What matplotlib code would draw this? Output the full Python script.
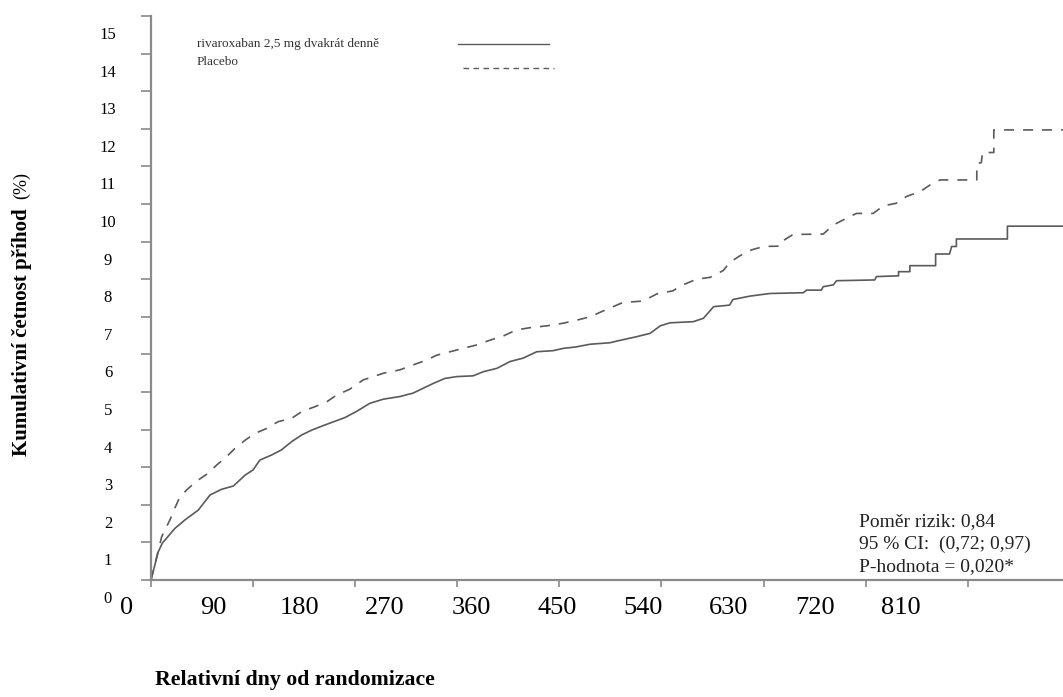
import matplotlib
matplotlib.use("Agg")
import matplotlib.pyplot as plt
from matplotlib.lines import Line2D

# ---------------- data (vertices of the cumulative-incidence curves) ----------------
riva_days = [0, 6.4, 10, 21, 30, 41.7, 52, 62, 72.6, 83, 90, 96, 106, 115, 124, 133, 142,
             153, 162, 171, 181, 193, 205, 219.5, 231, 240, 249, 259, 269.5, 284, 293,
             305, 316.5, 328, 340, 354.6, 363.5, 375, 387, 404.6, 413, 428, 440, 449,
             457.5, 478, 487, 496, 510, 513, 528, 545.6, 575, 578, 591, 592.6, 601.5,
             604.4, 638, 639.6, 659, 659, 669, 669, 691.7, 691.7, 704, 705.8, 710, 710,
             755, 755, 804]
riva_vals = [0, 0.75, 0.98, 1.37, 1.6, 1.86, 2.26, 2.41, 2.5, 2.79, 2.93, 3.19, 3.32, 3.46,
             3.68, 3.86, 3.99, 4.12, 4.22, 4.32, 4.48, 4.70, 4.81, 4.88, 4.97, 5.10, 5.23,
             5.36, 5.41, 5.43, 5.54, 5.63, 5.81, 5.90, 6.07, 6.10, 6.16, 6.20, 6.27, 6.31,
             6.37, 6.47, 6.56, 6.76, 6.84, 6.87, 6.96, 7.27, 7.31, 7.46, 7.55, 7.62, 7.64,
             7.71, 7.71, 7.80, 7.85, 7.96, 7.98, 8.07, 8.09, 8.20, 8.20, 8.36, 8.36, 8.67,
             8.67, 8.87, 8.87, 9.07, 9.07, 9.41, 9.41]

plac_days = [0, 9.4, 12.3, 16.7, 21, 25.6, 33, 41.7, 50.5, 58, 66.7, 74, 83, 91.7, 102,
             112, 124, 133, 144.6, 155, 163.7, 175, 187, 205, 219.5, 231, 243, 252, 263.6,
             275, 287, 299, 310.6, 322, 334, 349, 363.5, 378, 387, 399, 416, 434, 446,
             460, 469, 481, 493, 504.5, 510, 519, 529.5, 540, 554.5, 556, 566, 592.6,
             601.5, 613, 622, 636.7, 645.6, 657, 666, 678, 688, 695.5, 728, 728, 732,
             733, 743, 743, 804]
plac_vals = [0, 1.15, 1.33, 1.6, 1.91, 2.22, 2.44, 2.66, 2.84, 3.06, 3.28, 3.5, 3.72, 3.9,
             4.03, 4.21, 4.30, 4.48, 4.61, 4.74, 4.92, 5.07, 5.32, 5.50, 5.59, 5.72, 5.85,
             5.98, 6.07, 6.16, 6.25, 6.38, 6.49, 6.65, 6.71, 6.76, 6.83, 6.93, 7.0, 7.16,
             7.38, 7.42, 7.61, 7.69, 7.85, 8.0, 8.05, 8.23, 8.44, 8.62, 8.78, 8.87, 8.88,
             9.0, 9.19, 9.2, 9.44, 9.62, 9.75, 9.75, 9.95, 10.02, 10.2, 10.33, 10.53,
             10.64, 10.64, 11.08, 11.1, 11.37, 11.37, 11.97, 11.97]

x_tick_days = [0, 90, 180, 270, 360, 450, 540, 630, 720]
x_tick_labels = [0, 90, 180, 270, 360, 450, 540, 630, 720, 810]
y_ticks = list(range(0, 16))

series_names = ["rivaroxaban 2,5 mg dvakrát denně", "Placebo"]
stats_text = ["Poměr rizik: 0,84", "95 % CI:  (0,72; 0,97)", "P-hodnota = 0,020*"]
xlabel = "Relativní dny od randomizace"
ylabel_bold = "Kumulativní četnost příhod"
ylabel_unit = "(%)"

# ---------------- figure ----------------
plt.rcParams['font.family'] = ['Liberation Serif', 'DejaVu Serif']
W, H, DPI = 1063, 697, 100
fig = plt.figure(figsize=(W / DPI, H / DPI), dpi=DPI)

xmin, xmax = -25, 804
px_per_day = 102.1 / 90.0
x0_px = 151 + xmin * px_per_day
x1_px = 1063
y15_px, y0_px = 16, 580
px_per_unit = (y0_px - y15_px) / 15.0
ymin = -0.6
bottom_px = y0_px - ymin * px_per_unit
ax = fig.add_axes([x0_px / W, 1 - bottom_px / H, (x1_px - x0_px) / W, (bottom_px - y15_px) / H])

ax.set_xlim(xmin, xmax)
ax.set_ylim(ymin, 15)

axis_col = "#8a8a8a"
line_col = "#5a5a5a"

ax.plot(riva_days, riva_vals, color=line_col, lw=1.2)
ax.plot(plac_days, plac_vals, color=line_col, lw=1.2, linestyle=(0, (6, 5.4)))

for s in ["top", "right"]:
    ax.spines[s].set_visible(False)
ax.spines["bottom"].set_position(("data", 0))
ax.spines["bottom"].set_bounds(0, xmax)
ax.spines["left"].set_position(("data", 0))
ax.spines["left"].set_bounds(0, 15)
for s in ["bottom", "left"]:
    ax.spines[s].set_color(axis_col)
    ax.spines[s].set_linewidth(1.6)

ax.set_xticks(x_tick_days)
ax.set_xticklabels([])
ax.tick_params(axis="x", direction="out", length=5, color=axis_col, width=1.2)
ax.set_yticks(y_ticks)
ax.set_yticklabels([])
ax.tick_params(axis="y", direction="out", length=7, color=axis_col, width=1.2)

# tick-label axes (labels are offset from the tick marks, as in the original)
a, b = 25.12, 1.1871
secx = ax.secondary_xaxis(-ymin / (15 - ymin),
                          functions=(lambda d: a + b * d, lambda L: (L - a) / b))
secx.set_xticks(x_tick_labels)
secx.set_xticklabels([str(v) for v in x_tick_labels], fontsize=19)
secx.tick_params(axis="x", length=0, pad=12)
secx.spines["bottom"].set_visible(False)

off = 0.45
left_frac = (0 - xmin) / (xmax - xmin)
secy = ax.secondary_yaxis(left_frac, functions=(lambda y: y + off, lambda s: s - off))
secy.set_yticks(y_ticks)
secy.set_yticklabels([str(v) for v in y_ticks], fontsize=12, ha="center")
secy.tick_params(axis="y", length=0, pad=31)
secy.spines["left"].set_visible(False)

# legend (drawn as in the original)
def fx(px):
    return px / W

def fy(py):
    return 1 - py / H

fig.text(fx(197), fy(44), series_names[0], fontsize=9.5, va="center", ha="left", color="#333333")
fig.text(fx(197), fy(62), series_names[1], fontsize=9.5, va="center", ha="left", color="#333333")
fig.add_artist(Line2D([fx(458), fx(549)], [fy(44), fy(44)], color=line_col, lw=1.0))
fig.add_artist(Line2D([fx(463), fx(554)], [fy(68), fy(68)], color=line_col, lw=1.0,
                      linestyle=(0, (4, 3.2))))

# statistics text
for i, t in enumerate(stats_text):
    fig.text(fx(859), fy(522 + 22.5 * i), t, fontsize=14, va="center", ha="left", color="#222222")

# axis labels
fig.text(fx(295), fy(680), xlabel, fontsize=15.7, fontweight="bold", ha="center", va="center")
fig.text(fx(22), fy(456), ylabel_bold, fontsize=15, fontweight="bold", rotation=90,
         ha="center", va="bottom")
fig.text(fx(22), fy(199), ylabel_unit, fontsize=13, rotation=90, ha="center", va="bottom")

fig.savefig("out.png", dpi=DPI)
